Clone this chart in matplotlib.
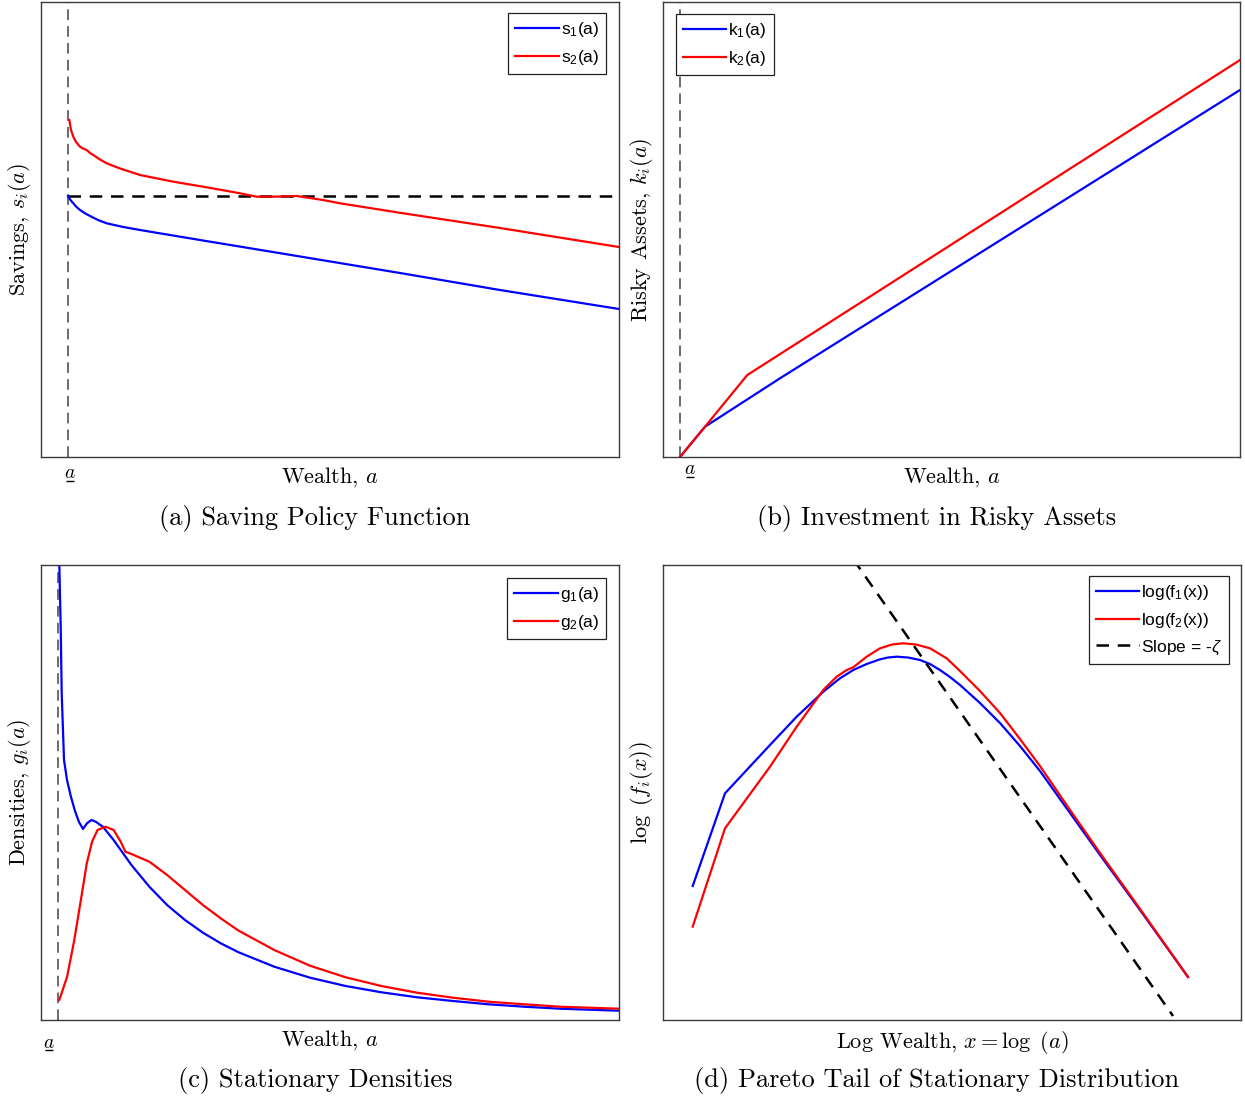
import matplotlib
matplotlib.use("Agg")
import matplotlib.pyplot as plt

plt.rcParams["mathtext.fontset"] = "cm"
plt.rcParams["mathtext.rm"] = "Liberation Sans"
plt.rcParams["mathtext.it"] = "Liberation Sans:italic"
plt.rcParams["axes.unicode_minus"] = False

# ---------------- (a) saving policy ----------------
a_s1 = [4.67, 5.02, 5.59, 6.14, 6.75, 7.61, 8.48, 9.86, 11.37, 14.24, 17.13, 27.51,
        44.81, 62.11, 79.41, 100.0]
s1 = [57.36, 56.59, 55.76, 54.95, 54.29, 53.56, 52.97, 52.09, 51.36, 50.55, 49.89,
      47.69, 44.07, 40.44, 36.70, 32.53]
a_s2 = [4.9, 5.19, 5.59, 6.06, 6.75, 7.27, 7.91, 8.48, 9.05, 10.21, 11.37, 13.67,
        17.13, 22.89, 28.67, 34.43, 37.32, 40.14, 44.24, 48.79, 51.73, 62.11, 79.41, 100.0]
s2 = [74.07, 71.87, 70.40, 69.23, 68.20, 67.80, 67.47, 66.81, 66.37, 65.38, 64.55, 63.41,
      61.98, 60.51, 59.27, 57.96, 57.21, 57.21, 57.36, 56.48, 55.76, 53.67, 50.33, 46.15]
a_min_a = 4.67
s_zero = 57.36

# ---------------- (b) risky assets ----------------
a_k1 = [2.95, 7.28, 20.28, 100.0]
k1 = [0.0, 6.66, 17.30, 80.66]
a_k2 = [2.95, 7.28, 14.61, 100.0]
k2 = [0.0, 6.66, 18.02, 87.25]
a_min_b = 2.95

# ---------------- (c) stationary densities ----------------
a_g1 = [3.11, 3.17, 3.41, 3.58, 3.98, 4.50, 5.19, 5.88, 6.57, 7.27, 7.96, 8.72, 9.46,
        10.71, 12.56, 15.64, 18.74, 21.82, 24.91, 28.01, 31.09, 34.19, 40.36, 46.54,
        52.72, 58.89, 65.07, 71.26, 77.44, 83.62, 89.79, 100.0]
g1 = [105.5, 100.0, 86.44, 71.87, 57.14, 52.75, 49.01, 45.93, 43.52, 41.98, 43.23,
      43.96, 43.58, 42.48, 39.56, 34.07, 29.30, 25.27, 21.98, 19.19, 16.86, 14.88,
      11.71, 9.30, 7.47, 6.09, 4.99, 4.18, 3.45, 2.92, 2.48, 2.04]
a_g2 = [3.17, 4.52, 5.76, 6.99, 7.92, 8.84, 9.78, 11.19, 12.56, 13.79, 14.60, 15.64,
        18.74, 21.82, 24.91, 28.01, 31.09, 34.19, 40.36, 46.54, 52.72, 58.89, 65.07,
        71.26, 77.44, 83.62, 89.79, 100.0]
g2 = [4.40, 9.52, 17.58, 27.10, 34.44, 39.19, 41.76, 42.48, 41.76, 39.19, 36.99,
      36.48, 34.79, 31.87, 28.57, 25.27, 22.35, 19.63, 15.38, 11.93, 9.38, 7.47,
      6.00, 4.90, 4.02, 3.45, 2.92, 2.48]
a_min_c = 2.94

# ---------------- (d) Pareto tail ----------------
x_f1 = [5.14, 10.73, 18.51, 23.13, 27.73, 30.62, 32.92, 35.24, 37.54, 38.93, 40.43,
        42.39, 44.46, 46.19, 47.92, 49.65, 51.38, 54.84, 58.30, 61.76, 65.22, 70.42,
        75.61, 82.53, 90.83]
f1 = [29.45, 49.82, 60.44, 66.66, 72.15, 75.10, 76.92, 78.24, 79.27, 79.67, 79.85,
      79.67, 79.12, 78.24, 76.92, 75.38, 73.63, 69.67, 65.27, 60.22, 54.73, 45.49,
      36.26, 24.18, 9.45]
x_f2 = [5.14, 10.73, 18.51, 23.13, 25.43, 27.73, 30.05, 31.78, 32.92, 35.24, 37.54,
        39.62, 41.57, 43.77, 46.19, 49.08, 51.38, 54.84, 58.30, 61.76, 65.22, 70.42,
        75.61, 82.53, 90.83]
f2 = [20.51, 42.13, 55.67, 64.46, 68.51, 72.53, 75.45, 76.92, 77.52, 79.85, 81.69,
      82.53, 82.79, 82.53, 81.69, 79.49, 76.70, 72.31, 67.47, 61.76, 55.82, 46.15,
      36.70, 24.40, 9.45]
x_slope = [32.9, 88.24]
y_slope = [101.3, 0.88]

BLUE = "#0000ff"
RED = "#ff0000"
LW = 1.6

fig = plt.figure(figsize=(12.45, 11.0), dpi=100)
W, H = 1245.0, 1100.0


def make_axes(left, top, right, bottom):
    return fig.add_axes([left / W, 1 - bottom / H, (right - left) / W, (bottom - top) / H])


axA = make_axes(41, 2, 619, 457)
axB = make_axes(663, 2, 1240, 457)
axC = make_axes(41, 565, 619, 1020)
axD = make_axes(663, 565, 1241, 1020)

for ax in (axA, axB, axC, axD):
    ax.set_xlim(0, 100)
    ax.set_ylim(0, 100)
    ax.set_xticks([])
    ax.set_yticks([])
    for sp in ax.spines.values():
        sp.set_color("#3a3a3a")
        sp.set_linewidth(1.0)

CM = "cmr10"
LAB = 16
CAP = 19
YLAB_X = -0.013


def legend(ax, loc, anchor):
    leg = ax.legend(loc=loc, bbox_to_anchor=anchor, borderaxespad=0, fancybox=False,
                    framealpha=1, edgecolor="#222222", prop={"family": "Liberation Sans", "size": 12.5},
                    handlelength=2.5, handletextpad=0.12, borderpad=0.4, labelspacing=0.5)
    leg.get_frame().set_linewidth(0.9)
    for t in leg.get_texts():
        t.set_math_fontfamily("custom")
    return leg


def lower_bound_label(ax, x, y_text, y_bar, half=0.7):
    """Underlined a marking the borrowing limit below the x axis."""
    tr = ax.get_xaxis_transform()
    ax.text(x, y_text, "$a$", transform=tr, ha="center", va="center", fontsize=14,
            clip_on=False)
    ax.plot([x - half, x + half], [y_bar, y_bar], transform=tr, color="black", lw=1.0,
            clip_on=False, solid_capstyle="butt")


# (a)
axA.axvline(a_min_a, color="#444444", lw=1.1, ls=(0, (7, 4)))
axA.plot([a_min_a, 100], [s_zero, s_zero], color="black", lw=1.8, ls=(0, (5, 3.5)))
axA.plot(a_s1, s1, color=BLUE, lw=LW, label="s$_1$(a)")
axA.plot(a_s2, s2, color=RED, lw=LW, label="s$_2$(a)")
lower_bound_label(axA, 5.0, -0.034, -0.052)
axA.set_xlabel("Wealth, $a$", family=CM, fontsize=LAB)
axA.xaxis.set_label_coords(0.5, -0.019)
axA.set_ylabel("Savings, $s_i(a)$", family=CM, fontsize=LAB)
axA.yaxis.set_label_coords(YLAB_X, 0.5)
legend(axA, "upper right", (0.9775, 0.9758))

# (b)
axB.axvline(a_min_b, color="#444444", lw=1.1, ls=(0, (7, 4)))
axB.plot(a_k1, k1, color=BLUE, lw=LW, label="k$_1$(a)")
axB.plot(a_k2, k2, color=RED, lw=LW, label="k$_2$(a)")
lower_bound_label(axB, 4.68, -0.025, -0.043)
axB.set_xlabel("Wealth, $a$", family=CM, fontsize=LAB)
axB.xaxis.set_label_coords(0.5, -0.019)
axB.set_ylabel("Risky Assets, $k_i(a)$", family=CM, fontsize=LAB)
axB.yaxis.set_label_coords(YLAB_X, 0.5)
legend(axB, "upper left", (0.0225, 0.9736))

# (c)
axC.axvline(a_min_c, color="#444444", lw=1.1, ls=(0, (7, 4)))
axC.plot(a_g1, g1, color=BLUE, lw=LW, label="g$_1$(a)")
axC.plot(a_g2, g2, color=RED, lw=LW, label="g$_2$(a)")
lower_bound_label(axC, 1.38, -0.049, -0.067)
axC.set_xlabel("Wealth, $a$", family=CM, fontsize=LAB)
axC.xaxis.set_label_coords(0.5, -0.019)
axC.set_ylabel("Densities, $g_i(a)$", family=CM, fontsize=LAB)
axC.yaxis.set_label_coords(YLAB_X, 0.5)
legend(axC, "upper right", (0.9775, 0.9714))

# (d)
axD.plot(x_f1, f1, color=BLUE, lw=LW, label="log(f$_1$(x))")
axD.plot(x_f2, f2, color=RED, lw=LW, label="log(f$_2$(x))")
axD.plot(x_slope, y_slope, color="black", lw=1.8, ls=(0, (5, 3.5)), label=r"Slope = -$\zeta$")
axD.set_xlabel(r"Log Wealth, $x = \log\ (a)$", family=CM, fontsize=LAB)
axD.xaxis.set_label_coords(0.5, -0.019)
axD.set_ylabel(r"$\log\ (f_i(x))$", family=CM, fontsize=LAB)
axD.yaxis.set_label_coords(YLAB_X, 0.5)
legend(axD, "upper right", (0.9792, 0.9758))

# panel captions, centred under each sub-figure (axes plus its y label)
for cap, xpx, ypx in (("(a) Saving Policy Function", 315, 518),
                      ("(b) Investment in Risky Assets", 936.5, 518),
                      ("(c) Stationary Densities", 315, 1081),
                      ("(d) Pareto Tail of Stationary Distribution", 936.5, 1081)):
    fig.text(xpx / W, 1 - ypx / H, cap, family=CM, fontsize=CAP, ha="center", va="center")

fig.savefig("out.png", dpi=100)
